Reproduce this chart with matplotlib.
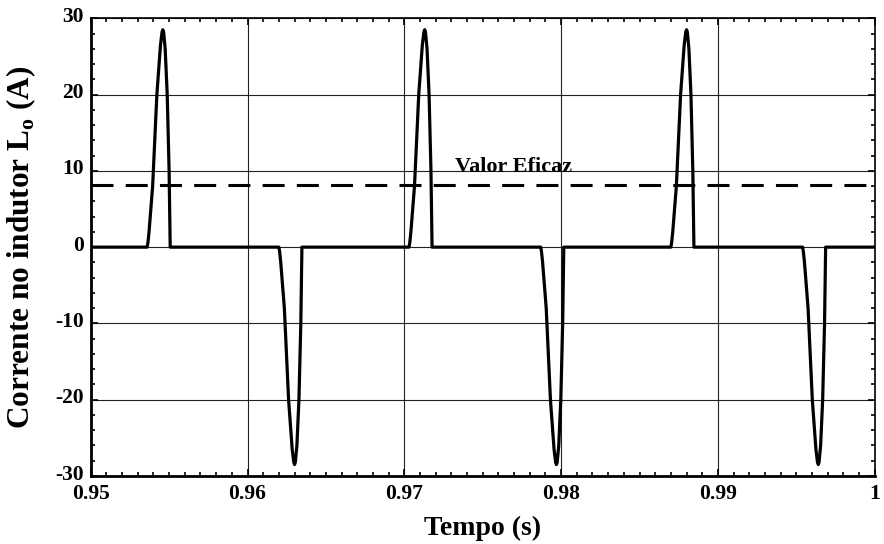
import numpy as np
import matplotlib
matplotlib.use("Agg")
import matplotlib.pyplot as plt
import matplotlib.transforms as mtransforms
from matplotlib.ticker import MultipleLocator, FixedLocator

plt.rcParams['font.family'] = ['Liberation Serif', 'DejaVu Serif']
plt.rcParams['font.weight'] = 'bold'
plt.rcParams['axes.unicode_minus'] = False
plt.rcParams['mathtext.fontset'] = 'custom'
plt.rcParams['mathtext.rm'] = 'Liberation Serif:bold'
plt.rcParams['mathtext.bf'] = 'Liberation Serif:bold'

# Shape of one current pulse: time from pulse start (ms) and amplitude (A)
pulse_ms = [0.0, 0.05, 0.12, 0.35, 0.62, 0.85, 0.95, 1.0, 1.05, 1.15, 1.28, 1.40, 1.47]
pulse_amp = [0.0, 0.6, 2.0, 8.0, 20.0, 26.5, 28.2, 28.5, 28.2, 26.0, 20.0, 10.0, 0.0]

# Start instants (s) and polarity of every pulse in the window
pulse_start = [0.9536, 0.9620, 0.9703, 0.9787, 0.9870, 0.9954]
pulse_sign = [1, -1, 1, -1, 1, -1]

t_begin, t_end = 0.95, 1.0
rms_value = 8.2

x_ticks = [0.95, 0.96, 0.97, 0.98, 0.99, 1.0]
x_tick_labels = ['0.95', '0.96', '0.97', '0.98', '0.99', '1']
y_ticks = [-30, -20, -10, 0, 10, 20, 30]

# Assemble the waveform from the pulse list
t = [t_begin]
i = [0.0]
for s0, sg in zip(pulse_start, pulse_sign):
    for dt, a in zip(pulse_ms, pulse_amp):
        t.append(s0 + dt / 1000.0)
        i.append(sg * a)
t.append(t_end)
i.append(0.0)

fig = plt.figure(figsize=(8.84, 5.44), dpi=100)
ax = fig.add_axes([0.1026, 0.125, 0.8869, 0.8414])

ax.grid(True, which='major', color='#222222', linewidth=0.8)
ax.set_axisbelow(True)

ax.plot(t, i, color='black', linewidth=2.3, solid_joinstyle='round', zorder=3)
ax.axhline(rms_value, color='black', linewidth=2.2, dashes=(7.2, 4.0), zorder=3)
ax.text(0.97323, 9.9, 'Valor Eficaz', fontsize=16, fontweight='bold',
        ha='left', va='baseline', zorder=4)

ax.set_xlim(t_begin, t_end)
ax.set_ylim(-30, 30)
ax.xaxis.set_major_locator(FixedLocator(x_ticks))
ax.set_xticklabels(x_tick_labels)
ax.yaxis.set_major_locator(FixedLocator(y_ticks))
ax.xaxis.set_minor_locator(MultipleLocator(0.001))
ax.yaxis.set_minor_locator(MultipleLocator(2))

ax.tick_params(which='both', direction='in', top=True, right=True,
               labelsize=15.5, width=1.2)
ax.tick_params(which='major', length=5)
ax.tick_params(axis='x', which='major', pad=6)
ax.tick_params(axis='y', which='major', pad=5)
ax.tick_params(which='minor', length=3)
for lab in ax.get_xticklabels() + ax.get_yticklabels():
    lab.set_fontweight('bold')

# lift the y tick labels a little so the lowest one clears the x labels
lift = mtransforms.ScaledTranslation(0, 4 / 100.0, fig.dpi_scale_trans)
for lab in ax.get_yticklabels():
    lab.set_transform(lab.get_transform() + lift)

for side in ['left', 'bottom']:
    ax.spines[side].set_linewidth(2.0)
for side in ['top', 'right']:
    ax.spines[side].set_linewidth(1.2)

ax.set_xlabel('Tempo (s)', fontsize=20, fontweight='bold', labelpad=8)
ax.set_ylabel(r'Corrente no indutor L$_{\mathrm{o}}$ (A)', fontsize=22.5,
              fontweight='bold', labelpad=12)

fig.savefig('out.png', dpi=100)
